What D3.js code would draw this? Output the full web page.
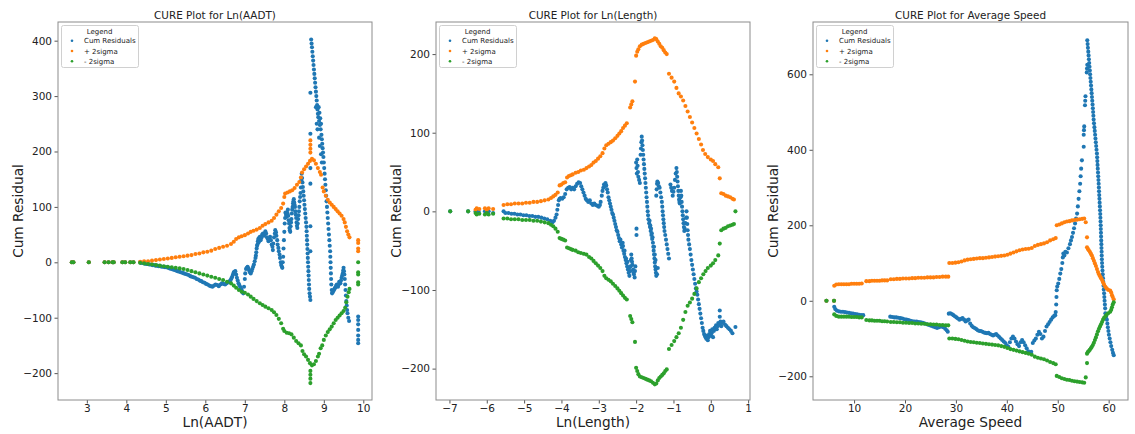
<!DOCTYPE html>
<html>
<head>
<meta charset="utf-8">
<script src="https://cdn.jsdelivr.net/npm/d3@7"></script>
<style>
  body { margin: 0; background: #fff; }
  text { font-family: "DejaVu Sans", sans-serif; fill: #222; }
</style>
</head>
<body>
<div id="chart"></div>
<script>
// ---- data ----
var seriesNames = ["Cum Residuals", "+ 2sigma", "- 2sigma"];
var seriesColors = ["#1f77b4", "#ff7f0e", "#2ca02c"];

var titles = ["CURE Plot for Ln(AADT)", "CURE Plot for Ln(Length)", "CURE Plot for Average Speed"];
var xLabels = ["Ln(AADT)", "Ln(Length)", "Average Speed"];

var aadtXTicks = [3, 4, 5, 6, 7, 8, 9, 10];
var aadtYTicks = [-200, -100, 0, 100, 200, 300, 400];
var lenXTicks = [-7, -6, -5, -4, -3, -2, -1, 0, 1];
var lenYTicks = [-200, -100, 0, 100, 200];
var spdXTicks = [10, 20, 30, 40, 50, 60];
var spdYTicks = [-200, 0, 200, 400, 600];

var aadtCure = [
  [2.62,0],[2.66,0],[3.05,0],[3.45,0],[3.55,0],[3.65,0],[3.68,0],[3.9,0],[3.97,0],[4.1,0],[4.18,0],
  [4.35,0],[4.42,-1],[4.5,-3],[4.58,-4],[4.66,-5],[4.74,-6],[4.82,-7],[4.9,-8],[4.98,-9],[5.06,-10],
  [5.14,-12],[5.22,-14],[5.3,-16],[5.38,-18],[5.46,-20],[5.54,-22],[5.62,-25],[5.7,-27],[5.78,-30],
  [5.86,-33],[5.94,-36],[6.02,-39],[6.1,-42],[6.18,-44],[6.26,-40],[6.34,-43],[6.42,-38],[6.5,-40],
  [4.38,-1],[4.46,-2],[4.54,-3],[4.62,-4],[4.7,-5],[4.78,-6],[4.86,-7],[4.94,-8],[5.02,-9],[5.1,-11],
  [5.18,-13],[5.26,-15],[5.34,-17],[5.42,-19],[5.5,-21],[5.58,-23],[5.66,-26],[5.74,-28],[5.82,-31],
  [5.9,-34],[5.98,-37],[6.06,-40],
  [6.58,-36],[6.64,-32],[6.68,-26],[6.72,-18],[6.76,-16],[6.8,-28],[6.84,-38],[6.88,-44],[6.92,-50],
  [6.96,-56],[7.0,-30],[7.03,-12],[7.07,-8],[7.11,-15],[7.15,-20],[7.19,-12],[7.23,-4],[7.27,8],
  [6.14,-43],[6.22,-42],[6.3,-41],[6.38,-40],[6.46,-39],[6.54,-38],[6.62,-34],[6.66,-29],[6.7,-22],
  [6.74,-17],[6.78,-22],[6.82,-33],[6.86,-41],[6.9,-47],[6.94,-53],[6.98,-44],[7.01,-20],[7.05,-10],
  [7.09,-11],[7.13,-18],[7.17,-16],[7.21,-8],[7.25,2],[7.28,12],
  [7.29,18],[7.3,25],[7.32,32],[7.33,38],[7.36,44],[7.4,40],[7.44,50],[7.48,48],[7.52,56],[7.56,45],
  [7.6,38],[7.64,46],[7.68,32],[7.71,22],[7.74,45],[7.77,58],[7.8,48],[7.83,32],[7.86,20],[7.89,8],
  [7.31,30],[7.34,42],[7.35,36],[7.38,46],[7.42,44],[7.46,52],[7.5,50],[7.54,52],[7.58,42],[7.62,42],
  [7.66,40],[7.7,28],[7.72,34],[7.76,52],[7.79,54],[7.82,40],[7.85,26],[7.88,14],[7.91,0],[7.94,-8],
  [7.92,-5],[7.95,-10],[7.96,0],[7.97,10],[7.98,25],[7.99,40],[8.0,55],[8.01,70],[8.03,90],[8.06,82],
  [8.09,95],[8.12,70],[8.15,55],[8.18,78],[8.21,100],[8.24,114],[8.27,100],[8.3,80],[8.33,62],
  [8.02,80],[8.04,88],[8.05,85],[8.07,90],[8.08,88],[8.1,84],[8.11,76],[8.13,62],[8.14,58],[8.16,65],
  [8.17,72],[8.19,88],[8.2,95],[8.22,106],[8.23,110],[8.25,108],[8.26,104],[8.28,92],[8.29,86],
  [8.31,72],[8.32,66],[8.34,70],[8.35,78],[8.37,92],[8.4,118],
  [8.36,85],[8.38,100],[8.39,110],[8.41,125],[8.42,135],[8.43,148],[8.44,160],
  [8.45,152],[8.46,144],[8.47,136],[8.48,128],[8.49,120],[8.5,112],[8.51,104],[8.52,96],[8.53,88],
  [8.54,80],[8.55,72],[8.56,64],[8.565,56],[8.57,48],[8.575,40],[8.58,32],[8.585,24],[8.59,16],
  [8.595,8],[8.6,0],[8.605,-8],[8.61,-16],[8.615,-24],[8.62,-32],[8.625,-40],[8.63,-48],[8.64,-56],
  [8.65,-62],[8.66,-68],
  [8.66,20],[8.66,65],[8.66,142],[8.66,170],[8.66,232],[8.66,306],
  [8.68,402],[8.69,395],[8.7,388],[8.71,380],[8.72,372],[8.73,364],[8.74,356],[8.75,348],[8.76,340],
  [8.77,332],[8.78,324],[8.79,316],[8.8,308],[8.81,300],[8.82,292],[8.83,284],[8.84,276],[8.85,268],
  [8.86,262],[8.87,280],[8.88,255],[8.89,270],[8.9,248],[8.91,260],[8.92,240],[8.93,250],[8.94,230],
  [8.95,222],[8.96,214],[8.97,206],[8.98,198],[8.99,190],[9.0,180],[9.01,170],[9.02,160],[9.03,150],
  [9.04,140],[9.05,130],[9.06,120],[9.07,110],[9.08,100],[9.09,90],[9.1,80],[9.11,70],[9.12,60],
  [9.13,50],[9.14,40],[9.15,30],[9.16,20],[9.165,10],[9.17,0],[9.175,-10],[9.18,-20],[9.185,-30],
  [9.19,-40],[9.2,-50],[9.21,-56],
  [8.8,280],[8.82,250],[8.84,240],[8.88,225],[8.9,210],[8.93,195],[8.95,180],
  [9.24,-52],[9.27,-48],[9.3,-45],[9.33,-40],[9.36,-44],[9.39,-35],[9.42,-38],[9.45,-28],[9.48,-20],
  [9.22,-54],[9.255,-50],[9.285,-46],[9.315,-42],[9.345,-42],[9.375,-40],[9.405,-36],[9.435,-33],
  [9.465,-24],[9.49,-15],
  [9.5,-10],[9.51,-16],[9.52,-22],[9.53,-30],[9.54,-40],[9.55,-50],[9.56,-60],[9.57,-70],[9.58,-78],
  [9.59,-86],[9.6,-92],[9.62,-100],[9.64,-106],
  [9.87,-98],[9.87,-104],[9.87,-112],[9.87,-122],[9.87,-132],[9.87,-140],[9.87,-146]
];
var aadtPlus = [
  [2.62,0],[2.66,0],[3.05,0],[3.45,0],[3.55,0],[3.65,0],[3.68,0],[3.9,0],[3.97,0],[4.1,0],[4.18,0],
  [4.35,1],[4.45,2],[4.55,2],[4.65,3],[4.75,4],[4.85,5],[4.95,6],[5.05,7],[5.15,8],[5.25,9],[5.35,10],
  [5.45,11],[5.55,12],[5.65,13],[5.75,15],[5.85,16],[5.95,18],[6.05,19],[6.15,21],[6.25,24],[6.35,26],
  [6.45,28],[6.55,30],[6.65,33],[6.72,37],[6.78,42],[6.85,45],[6.92,47],[7.0,49],[7.08,52],[7.15,55],
  [7.22,57],[7.3,59],[7.38,62],[7.45,66],[7.52,69],[7.6,72],[7.68,75],[7.74,80],[7.8,86],[7.86,92],
  [7.92,98],[7.97,106],[8.0,118],[8.02,124],[8.08,126],[8.14,128],[8.2,130],[8.26,134],[8.32,140],
  [8.38,145],[8.42,153],[8.45,162],[8.5,168],[8.55,173],[8.6,178],[8.65,183],[8.7,187],[8.75,184],
  [8.8,178],[8.85,170],[8.9,163],[8.93,158],
  [8.66,198],[8.66,205],[8.66,212],[8.66,220],
  [8.97,135],[9.0,128],[9.05,120],[9.1,113],[9.15,108],[9.2,104],[9.25,100],[9.3,96],[9.35,92],
  [9.4,88],[9.45,84],[9.5,78],[9.53,72],[9.56,64],[9.59,56],[9.62,50],[9.65,45],
  [9.87,20],[9.87,25],[9.87,35],[9.87,40]
];
var aadtMinus = [
  [2.62,0],[2.66,0],[3.05,0],[3.45,0],[3.55,0],[3.65,0],[3.68,0],[3.9,0],[3.97,0],[4.1,0],[4.18,0],
  [4.35,-1],[4.45,-2],[4.55,-3],[4.65,-4],[4.75,-5],[4.85,-6],[4.95,-7],[5.05,-8],[5.15,-9],[5.25,-10],
  [5.35,-11],[5.45,-12],[5.55,-14],[5.65,-16],[5.75,-18],[5.85,-20],[5.95,-22],[6.05,-24],[6.15,-26],
  [6.25,-28],[6.35,-30],[6.45,-32],[6.55,-35],[6.65,-38],[6.72,-42],[6.78,-46],[6.85,-50],[6.92,-53],
  [7.0,-55],[7.08,-58],[7.15,-62],[7.22,-66],[7.3,-70],[7.38,-74],[7.45,-77],[7.52,-80],[7.6,-83],
  [7.68,-86],[7.74,-90],[7.8,-95],[7.86,-102],[7.92,-110],[7.97,-120],[8.0,-124],[8.06,-127],
  [8.12,-128],[8.18,-130],[8.24,-136],[8.3,-142],[8.36,-146],[8.42,-150],[8.46,-160],[8.5,-166],
  [8.55,-170],[8.6,-176],[8.65,-182],[8.7,-186],[8.75,-184],[8.8,-178],[8.85,-170],[8.88,-165],
  [8.92,-155],[8.96,-150],[9.0,-140],[9.05,-132],[9.1,-126],[9.15,-121],[9.2,-116],[9.25,-110],
  [9.3,-104],[9.35,-100],[9.4,-96],[9.45,-92],[9.5,-88],[9.54,-82],[9.57,-72],[9.6,-62],[9.63,-54],
  [9.65,-48],
  [8.66,-196],[8.66,-203],[8.66,-210],[8.66,-218],
  [9.87,0],[9.87,-18],[9.87,-22],[9.87,-36],[9.87,-40]
];

var lenCure = [
  [-6.98,0],[-6.5,0],[-6.3,0],[-6.27,-2],[-6.22,0],[-6.05,0],[-6.0,-2],[-5.95,0],[-5.83,-2],
  [-5.55,0],[-5.5,-2],[-5.42,-2],[-5.34,-3],[-5.26,-3],[-5.18,-4],[-5.1,-4],[-5.02,-5],[-4.94,-5],
  [-4.86,-6],[-4.78,-6],[-4.7,-7],[-4.62,-7],[-4.54,-8],[-4.46,-9],[-4.38,-10],[-4.3,-12],[-4.24,-14],
  [-4.2,-12],[-4.16,-8],
  [-4.13,-4],[-4.11,2],[-4.09,8],[-4.07,14],[-4.05,16],[-4.02,17],[-3.98,16],[-3.94,18],[-3.9,22],
  [-3.86,28],[-3.82,30],[-3.78,31],[-3.74,28],[-3.7,30],[-3.66,28],[-3.62,32],[-3.58,35],[-3.54,37],
  [-3.5,36],[-3.47,32],[-3.44,28],[-3.41,24],[-3.38,20],[-3.35,16],[-3.32,14],[-3.28,12],[-3.24,14],
  [-3.2,10],[-3.16,8],[-3.12,10],[-3.08,8],[-3.04,7],[-3.0,6],[-2.97,8],
  [-2.95,12],[-2.92,20],[-2.9,26],[-2.88,30],[-2.86,34],[-2.84,32],[-2.82,36],[-2.8,33],[-2.78,28],
  [-2.76,24],[-2.74,18],[-2.72,14],[-2.7,10],[-2.68,6],[-2.66,2],[-2.64,-2],[-2.62,-4],[-2.6,-8],
  [-2.58,-12],[-2.56,-16],[-2.54,-20],[-2.52,-24],[-2.5,-26],[-2.48,-30],[-2.46,-34],[-2.44,-38],
  [-2.42,-36],[-2.4,-42],[-2.38,-46],[-2.36,-40],[-2.34,-50],[-2.32,-54],[-2.3,-58],[-2.28,-62],
  [-2.26,-66],[-2.24,-70],[-2.22,-74],[-2.2,-78],[-2.18,-82],[-2.16,-76],[-2.14,-62],[-2.13,-55],
  [-2.12,-60],[-2.1,-68],[-2.08,-74],[-2.06,-80],[-2.04,-84],[-2.03,-76],[-2.02,-70],
  [-2.35,-44],[-2.31,-50],[-2.27,-60],[-2.23,-64],[-2.19,-72],[-2.15,-70],[-2.11,-64],[-2.07,-78],
  [-1.99,-22],[-1.99,-30],
  [-2.0,62],[-1.99,55],[-1.98,48],[-1.97,66],[-1.96,58],[-1.95,50],[-1.94,44],[-1.92,40],[-1.9,36],
  [-1.88,72],[-1.87,80],[-1.86,88],[-1.85,95],[-1.84,90],[-1.83,84],[-1.82,78],[-1.81,72],[-1.8,66],
  [-1.79,60],[-1.78,54],[-1.77,48],[-1.76,42],[-1.75,36],[-1.74,30],[-1.73,24],[-1.72,18],[-1.71,12],
  [-1.7,6],[-1.69,0],[-1.68,-5],[-1.67,-10],[-1.65,-15],[-1.63,-20],[-1.61,-25],[-1.59,-30],
  [-1.57,-35],[-1.55,-40],[-1.54,-45],[-1.53,-50],[-1.52,-55],[-1.51,-60],[-1.5,-65],[-1.49,-70],
  [-1.48,-74],[-1.47,-78],[-1.46,-82],[-1.44,-80],[-1.42,-72],
  [-1.64,-12],[-1.62,-18],[-1.6,-22],[-1.58,-28],[-1.56,-33],[-1.52,-45],[-1.5,-55],[-1.48,-62],
  [-1.46,20],[-1.45,28],[-1.44,35],[-1.43,38],[-1.41,36],[-1.39,32],[-1.37,30],[-1.35,24],[-1.33,18],
  [-1.31,12],[-1.3,6],[-1.29,0],[-1.28,-5],[-1.27,-10],[-1.26,-15],[-1.25,-20],[-1.24,-25],
  [-1.22,-30],[-1.2,-36],[-1.18,-42],[-1.16,-48],[-1.14,-54],[-1.12,-60],
  [-1.08,34],[-1.06,30],[-1.04,26],[-1.02,20],[-1.0,25],[-0.98,30],[-0.96,40],[-0.94,48],[-0.92,55],
  [-0.91,50],[-0.9,44],[-0.89,38],[-0.88,32],[-0.87,26],[-0.86,20],[-0.85,15],[-0.84,12],[-0.83,10],
  [-0.81,18],[-0.8,26],[-0.79,20],[-0.78,12],[-0.77,6],[-0.76,0],[-0.75,-5],[-0.74,-10],[-0.73,-15],
  [-0.72,-20],[-0.71,-25],[-0.7,-22],[-0.68,-15],[-0.66,-8],[-0.65,0],[-0.64,-8],[-0.63,-16],
  [-0.62,-24],[-0.61,-30],[-0.6,-36],[-0.58,-42],[-0.56,-48],[-0.54,-55],[-0.52,-62],[-0.5,-68],
  [-0.48,-74],[-0.46,-80],[-0.44,-86],[-0.42,-92],[-0.4,-98],[-0.38,-102],[-0.36,-106],[-0.34,-112],
  [-0.32,-118],[-0.3,-124],[-0.28,-130],[-0.26,-136],[-0.24,-142],[-0.22,-148],[-0.2,-152],
  [-0.18,-156],[-0.16,-158],[-0.14,-160],[-0.12,-162],[-0.1,-158],[-0.08,-164],[-0.06,-160],
  [-0.04,-156],[-0.02,-152],[0.0,-158],[0.02,-155],[0.04,-150],[0.06,-160],[0.08,-152],[0.1,-148],
  [0.12,-150],[0.14,-145],[0.16,-150],[0.18,-146],[0.2,-142],[0.22,-144],[0.24,-126],[0.24,-134],
  [0.26,-140],[0.28,-146],[0.3,-142],[0.34,-140],[0.38,-144],[0.42,-146],[0.46,-148],[0.5,-150],
  [0.54,-152],[0.58,-155],[0.66,-147]
];
var lenPlus = [
  [-6.3,2],[-6.27,4],[-6.2,3],[-6.05,4],[-6.0,2],[-5.95,4],[-5.83,3],
  [-5.55,8],[-5.45,9],[-5.35,9],[-5.25,10],[-5.15,10],[-5.05,10],[-4.95,11],[-4.85,11],[-4.75,12],
  [-4.65,12],[-4.55,13],[-4.45,14],[-4.35,15],[-4.28,17],[-4.22,19],[-4.16,21],[-4.1,24],
  [-4.05,33],[-4.0,34],[-3.95,36],[-3.9,37],
  [-3.85,43],[-3.8,45],[-3.75,46],[-3.7,47],[-3.62,49],[-3.55,50],[-3.48,52],[-3.4,53],[-3.33,55],
  [-3.26,57],[-3.2,59],[-3.14,62],[-3.08,64],[-3.02,67],[-2.96,70],[-2.9,74],[-2.85,80],[-2.8,84],
  [-2.74,86],[-2.68,88],[-2.62,90],[-2.56,93],[-2.5,96],[-2.45,99],[-2.4,102],[-2.35,106],[-2.3,109],
  [-2.25,112],
  [-2.16,132],[-2.13,136],[-2.1,140],
  [-2.03,165],
  [-2.0,198],[-1.97,203],[-1.94,206],[-1.9,210],[-1.85,212],[-1.8,213],[-1.75,214],[-1.7,215],
  [-1.65,216],[-1.6,217],[-1.55,218],[-1.5,220],[-1.46,219],[-1.42,216],[-1.38,213],[-1.34,210],
  [-1.3,208],[-1.26,205],[-1.22,202],[-1.18,200],
  [-1.12,175],[-1.05,170],[-0.98,165],[-0.92,157],[-0.86,150],[-0.8,146],[-0.74,141],[-0.68,134],
  [-0.62,127],[-0.56,120],[-0.5,113],[-0.44,106],[-0.38,99],[-0.32,92],[-0.26,85],[-0.21,78],
  [-0.15,73],[-0.08,69],[0.0,66],[0.06,64],[0.12,60],[0.2,56],
  [0.24,42],[0.28,23],[0.34,22],[0.4,20],[0.46,19],[0.52,18],[0.58,16],[0.62,15]
];
var lenMinus = [
  [-6.98,0],[-6.5,0],[-6.3,-2],[-6.27,-4],[-6.2,-3],[-6.05,-4],[-6.0,-2],[-5.95,-4],[-5.83,-3],
  [-5.55,-9],[-5.45,-9],[-5.35,-10],[-5.25,-10],[-5.15,-10],[-5.05,-11],[-4.95,-11],[-4.85,-11],
  [-4.75,-12],[-4.65,-12],[-4.55,-13],[-4.45,-14],[-4.35,-15],[-4.28,-17],[-4.22,-19],[-4.16,-22],
  [-4.1,-26],
  [-4.05,-34],[-4.0,-35],[-3.95,-36],[-3.9,-37],
  [-3.85,-46],[-3.8,-47],[-3.75,-48],[-3.7,-49],[-3.62,-50],[-3.55,-52],[-3.48,-53],[-3.4,-54],
  [-3.33,-55],[-3.26,-58],[-3.2,-60],[-3.14,-63],[-3.08,-66],[-3.02,-69],[-2.96,-72],[-2.9,-76],
  [-2.85,-82],[-2.8,-85],[-2.74,-87],[-2.68,-89],[-2.62,-92],[-2.56,-95],[-2.5,-98],[-2.45,-101],
  [-2.4,-104],[-2.35,-107],[-2.3,-110],[-2.25,-112],
  [-2.16,-133],[-2.13,-137],[-2.1,-141],
  [-2.03,-166],
  [-2.0,-199],[-1.97,-203],[-1.94,-207],[-1.9,-210],[-1.85,-211],[-1.8,-212],[-1.75,-213],
  [-1.7,-214],[-1.65,-215],[-1.6,-216],[-1.55,-218],[-1.5,-220],[-1.46,-219],[-1.42,-215],
  [-1.38,-212],[-1.34,-210],[-1.3,-208],[-1.26,-206],[-1.22,-203],[-1.18,-201],
  [-1.12,-175],[-1.05,-170],[-0.98,-165],[-0.92,-160],[-0.86,-155],[-0.8,-148],[-0.74,-138],
  [-0.68,-128],[-0.62,-120],[-0.56,-116],[-0.5,-111],[-0.44,-105],[-0.38,-98],[-0.32,-90],
  [-0.26,-85],[-0.2,-80],[-0.14,-76],[-0.08,-72],[0.0,-69],[0.06,-66],[0.12,-62],[0.2,-56],
  [0.24,-41],[0.28,-24],[0.34,-22],[0.4,-21],[0.46,-19],[0.52,-18],[0.58,-17],[0.62,-16],[0.66,0]
];

var spdCure = [
  [4.57,0],[6.06,0],[6.1,-16],[6.3,-22],[6.6,-26],[7.0,-28],[7.4,-29],[7.8,-29],[8.2,-30],[8.6,-31],
  [9.0,-32],[9.4,-33],[9.8,-34],[10.2,-35],[10.6,-36],[11.0,-37],[11.4,-38],[11.8,-38],
  [17.1,-42],[17.5,-43],[17.9,-44],[18.3,-44],[18.7,-45],[19.1,-46],[19.5,-47],[19.9,-49],[20.3,-50],
  [20.7,-51],[21.1,-53],[21.5,-54],[21.9,-55],[22.3,-55],[22.7,-56],[23.1,-57],[23.5,-58],[23.9,-60],
  [24.3,-62],[24.7,-64],[25.1,-66],[25.5,-68],[25.9,-70],[26.3,-72],[26.7,-70],[27.1,-68],[27.5,-70],
  [27.9,-74],[28.2,-78],[28.4,-82],
  [28.6,-34],[28.9,-33],[29.2,-35],[29.5,-38],[29.8,-41],[30.1,-44],[30.4,-47],[30.7,-50],[31.0,-48],
  [31.3,-46],[31.6,-50],[31.9,-55],[32.2,-52],[32.5,-50],[32.8,-60],[33.1,-66],[33.4,-70],[33.7,-72],
  [34.0,-75],[34.3,-78],[34.6,-80],[34.9,-80],[35.2,-82],[35.5,-84],[35.8,-85],[36.1,-86],[36.4,-85],
  [36.7,-88],[37.0,-90],[37.3,-92],[37.6,-90],[37.9,-88],[38.2,-92],[38.5,-96],[38.8,-100],
  [39.1,-104],[39.4,-108],[39.7,-112],[40.0,-118],[40.3,-122],[40.6,-110],[40.9,-100],[41.2,-95],
  [41.5,-100],[41.8,-108],[42.1,-115],[42.4,-120],[42.7,-110],[43.0,-104],[43.3,-110],[43.6,-118],
  [43.9,-126],[44.2,-134],[44.5,-138],[44.8,-135],[45.1,-112],[45.4,-105],[45.7,-100],[46.0,-90],
  [46.3,-82],[46.6,-88],[46.9,-100],[47.2,-95],[47.5,-80],[47.8,-68],[48.1,-62],[48.4,-56],
  [48.7,-50],[49.0,-44],[49.3,-40],
  [49.5,-38],[49.6,-30],[49.7,-10],[49.75,10],[49.8,28],[49.9,38],[50.1,46],[50.3,58],[50.5,72],
  [50.7,84],[50.9,100],[51.0,115],[51.1,125],[51.3,120],[51.5,130],[51.8,128],[52.1,139],[52.4,150],
  [52.6,160],[52.8,169],[53.0,180],[53.2,192],[53.4,205],[53.6,218],[53.8,231],[53.95,250],
  [54.1,270],[54.25,290],[54.4,310],[54.5,330],[54.6,350],[54.75,372],
  [55.1,408],[55.1,440],[55.15,452],[55.2,462],[55.35,518],[55.4,530],[55.45,542],[55.7,605],
  [55.75,615],[55.8,625],
  [55.8,690],[55.87,680],[55.93,670],[56.0,660],[56.06,650],[56.12,640],[56.18,630],[56.24,620],
  [56.3,610],[56.36,600],[56.42,590],[56.48,580],[56.54,570],[56.6,560],[56.66,550],[56.72,540],
  [56.78,530],[56.84,520],[56.9,510],[56.95,500],[57.0,490],[57.05,480],[57.12,470],[57.2,460],
  [57.27,450],[57.34,440],[57.41,430],[57.48,420],[57.55,410],[57.62,400],[57.7,390],[57.74,380],
  [57.78,370],[57.82,360],[57.86,350],[57.91,340],[57.95,330],[58.0,320],[58.04,310],[58.08,300],
  [58.11,290],[58.15,280],[58.19,270],[58.23,260],[58.27,250],[58.31,240],[58.35,230],[58.38,220],
  [58.41,210],[58.44,200],[58.46,190],[58.49,180],[58.51,170],[58.54,160],[58.57,150],[58.59,140],
  [58.62,130],[58.64,120],[58.67,110],[58.7,100],[58.74,90],[58.79,80],[58.84,70],[58.89,60],
  [58.94,50],[58.99,40],[59.04,30],[59.1,20],[59.15,10],[59.2,0],[59.26,-10],[59.31,-20],
  [59.35,-33],[59.5,-42],[59.65,-50],[59.75,-60],[59.85,-70],[59.95,-80],[60.05,-90],[60.2,-100],
  [60.35,-110],[60.5,-120],[60.7,-130],[60.85,-138],[61.0,-144]
];
var spdPlus = [
  [4.57,0],[6.06,0],[6.1,40],[6.5,43],[7.0,44],[7.5,44],[8.0,44],[8.5,44],[9.0,44],[9.5,45],[10.0,45],
  [10.5,45],[11.0,45],[11.5,46],[12.4,52],[13.0,52],[13.5,53],[14.0,53],[14.5,53],[15.0,53],
  [15.5,54],[16.0,54],[16.5,54],[17.2,57],[17.8,57],[18.4,58],[19.0,58],[19.6,59],[20.2,59],
  [20.8,59],[21.4,60],[22.0,60],[22.6,61],[23.2,61],[23.8,61],[24.4,62],[25.0,62],[25.6,62],
  [26.2,63],[26.8,63],[27.4,64],[28.0,64],[28.5,64],
  [28.7,100],[29.3,100],[29.9,101],[30.5,102],[31.1,104],[31.7,107],[32.3,109],[32.9,110],[33.5,111],
  [34.1,112],[34.7,113],[35.3,113],[35.9,114],[36.5,115],[37.1,116],[37.7,117],[38.3,118],[38.9,119],
  [39.5,120],[40.1,122],[40.7,125],[41.3,128],[41.9,131],[42.5,134],[43.1,136],[43.7,137],[44.3,138],
  [44.9,140],[45.5,145],[46.1,148],[46.7,150],[47.3,152],[47.9,155],[48.5,160],[49.1,163],[49.6,166],
  [49.8,200],[50.3,202],[50.8,205],[51.3,208],[51.8,210],[52.3,211],[52.8,213],[53.3,214],[53.8,215],
  [54.3,216],[54.8,217],[55.2,218],[55.5,208],
  [55.75,168],[55.75,142],[55.9,138],[56.1,134],[56.3,130],[56.5,125],[56.7,120],[56.9,113],
  [57.1,106],[57.3,99],[57.5,92],[57.7,84],[57.9,76],[58.1,70],[58.3,65],[58.5,60],[58.7,55],
  [58.9,49],[59.1,43],[59.35,37],[59.6,33],[59.9,29],[60.3,27],[60.5,22],[60.65,15],[60.8,10],[61.0,4]
];
var spdMinus = [
  [4.57,0],[6.06,0],[6.1,-36],[6.5,-40],[7.0,-42],[7.5,-42],[8.0,-42],[8.5,-42],[9.0,-42],[9.5,-43],
  [10.0,-43],[10.5,-43],[11.0,-44],[11.5,-44],[12.4,-51],[13.0,-52],[13.5,-52],[14.0,-53],[14.5,-53],
  [15.0,-53],[15.5,-54],[16.0,-54],[16.5,-55],[17.2,-56],[17.8,-56],[18.4,-57],[19.0,-57],[19.6,-58],
  [20.2,-58],[20.8,-59],[21.4,-59],[22.0,-60],[22.6,-60],[23.2,-61],[23.8,-61],[24.4,-62],[25.0,-62],
  [25.6,-63],[26.2,-63],[26.8,-64],[27.4,-64],[28.0,-65],[28.5,-65],
  [28.7,-100],[29.3,-100],[29.9,-101],[30.5,-102],[31.1,-104],[31.7,-106],[32.3,-108],[32.9,-109],
  [33.5,-110],[34.1,-111],[34.7,-112],[35.3,-113],[35.9,-114],[36.5,-115],[37.1,-116],[37.7,-117],
  [38.3,-118],[38.9,-120],[39.5,-122],[40.1,-125],[40.7,-128],[41.3,-130],[41.9,-132],[42.5,-134],
  [43.1,-136],[43.7,-138],[44.3,-140],[44.9,-143],[45.5,-148],[46.1,-151],[46.7,-153],[47.3,-155],
  [47.9,-158],[48.5,-162],[49.1,-165],[49.6,-168],
  [49.8,-199],[50.3,-202],[50.8,-205],[51.3,-207],[51.8,-209],[52.3,-210],[52.8,-212],[53.3,-213],
  [53.8,-214],[54.3,-215],[54.8,-216],[55.2,-217],[55.5,-203],
  [55.75,-165],[55.75,-140],[55.9,-136],[56.1,-133],[56.3,-130],[56.5,-126],[56.7,-122],[56.9,-117],
  [57.1,-111],[57.3,-104],[57.5,-97],[57.7,-89],[57.9,-81],[58.1,-74],[58.3,-68],[58.5,-62],
  [58.7,-56],[58.9,-50],[59.1,-45],[59.35,-41],[59.6,-37],[59.9,-33],[60.3,-29],[60.5,-24],
  [60.65,-17],[60.8,-10],[61.0,-4]
];

// ---- layout ----
var width = 1135, height = 434;
var DOT_R = 2.05;

var panels = [
  {left: 58, right: 372, xDomain: [2.27, 10.22], yDomain: [-248.5, 433.7],
   xTicks: aadtXTicks, yTicks: aadtYTicks, series: [aadtCure, aadtPlus, aadtMinus]},
  {left: 436, right: 750, xDomain: [-7.36, 1.05], yDomain: [-239.9, 240.8],
   xTicks: lenXTicks, yTicks: lenYTicks, series: [lenCure, lenPlus, lenMinus]},
  {left: 813, right: 1128, xDomain: [1.93, 63.8], yDomain: [-262.8, 738.5],
   xTicks: spdXTicks, yTicks: spdYTicks, series: [spdCure, spdPlus, spdMinus]}
];
var plotTop = 22, plotBottom = 400;

var svg = d3.select("#chart").append("svg")
    .attr("width", width)
    .attr("height", height);

svg.append("rect").attr("width", width).attr("height", height).attr("fill", "#fff");

panels.forEach(function(p, i) {
  var xScale = d3.scaleLinear().domain(p.xDomain).range([p.left, p.right]);
  var yScale = d3.scaleLinear().domain(p.yDomain).range([plotBottom, plotTop]);
  var g = svg.append("g");

  // points
  p.series.forEach(function(data, k) {
    g.append("g").selectAll("circle")
      .data(data)
      .enter().append("circle")
      .attr("cx", function(d) { return xScale(d[0]); })
      .attr("cy", function(d) { return yScale(d[1]); })
      .attr("r", DOT_R)
      .attr("fill", seriesColors[k]);
  });

  // axes
  var xAxis = g.append("g")
    .attr("transform", "translate(0," + plotBottom + ")")
    .call(d3.axisBottom(xScale).tickValues(p.xTicks).tickSize(3.5).tickPadding(1.5));
  var yAxis = g.append("g")
    .attr("transform", "translate(" + p.left + ",0)")
    .call(d3.axisLeft(yScale).tickValues(p.yTicks).tickSize(3.5).tickPadding(2.5));
  [xAxis, yAxis].forEach(function(a) {
    a.select(".domain").remove();
    a.selectAll(".tick line").attr("stroke", "#555");
    a.selectAll(".tick text").style("font-size", "10.5px").attr("fill", "#222")
      .style("font-family", "DejaVu Sans, sans-serif");
  });

  // frame
  g.append("rect")
    .attr("x", p.left).attr("y", plotTop)
    .attr("width", p.right - p.left).attr("height", plotBottom - plotTop)
    .attr("fill", "none").attr("stroke", "#8c8c8c").attr("stroke-width", 1);

  var cx = (p.left + p.right) / 2;
  g.append("text").attr("x", cx).attr("y", 18.5)
    .attr("text-anchor", "middle").style("font-size", "10.4px")
    .text(titles[i]);
  g.append("text").attr("x", cx).attr("y", 427)
    .attr("text-anchor", "middle").style("font-size", "13.7px")
    .text(xLabels[i]);
  g.append("text")
    .attr("transform", "translate(" + (p.left - 35) + "," + ((plotTop + plotBottom) / 2) + ") rotate(-90)")
    .attr("text-anchor", "middle").style("font-size", "13.7px")
    .text("Cum Residual");

  // legend
  var lg = g.append("g").attr("transform", "translate(" + (p.left + 3.5) + ",25.5)");
  lg.append("rect").attr("width", 77).attr("height", 42).attr("rx", 2)
    .attr("fill", "#fff").attr("fill-opacity", 0.85)
    .attr("stroke", "#d0d0d0").attr("stroke-width", 1);
  lg.append("text").attr("x", 38).attr("y", 8).attr("text-anchor", "middle")
    .style("font-size", "7px").text("Legend");
  seriesNames.forEach(function(name, k) {
    lg.append("circle").attr("cx", 10.5).attr("cy", 15.3 + k * 10.2).attr("r", 1.3)
      .attr("fill", seriesColors[k]);
    lg.append("text").attr("x", 22.5).attr("y", 17.8 + k * 10.2)
      .style("font-size", "7px").text(name);
  });
});
</script>
</body>
</html>
